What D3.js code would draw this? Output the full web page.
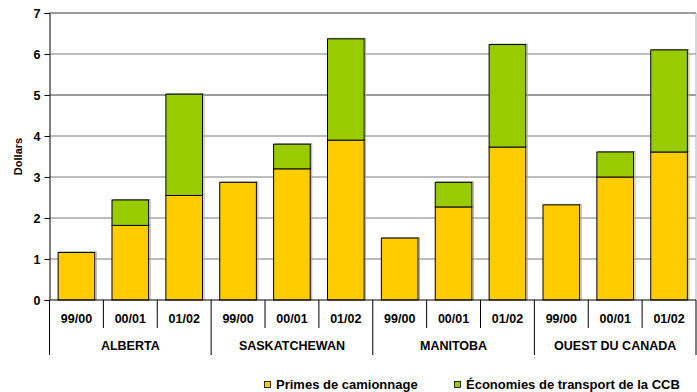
<!DOCTYPE html>
<html>
<head>
<meta charset="utf-8">
<script src="https://cdn.jsdelivr.net/npm/d3@7"></script>
<style>
  body { margin: 0; background: #fff; }
  text { font-family: "Liberation Sans", Arial, sans-serif; font-weight: bold; }
</style>
</head>
<body>
<div id="vis"></div>
<script>
// data
var regions = ["ALBERTA", "SASKATCHEWAN", "MANITOBA", "OUEST DU CANADA"];
var years = ["99/00", "00/01", "01/02"];
var primes = [1.16, 1.82, 2.55, 2.87, 3.20, 3.90, 1.51, 2.27, 3.73, 2.32, 3.00, 3.61];
var economies = [0, 0.62, 2.47, 0, 0.60, 2.47, 0, 0.60, 2.50, 0, 0.61, 2.49];
var yTicks = [0, 1, 2, 3, 4, 5, 6, 7];
var seriesNames = ["Primes de camionnage", "Économies de transport de la CCB"];
var colors = ["#FFCC00", "#99CC00"];

var W = 697, H = 392,
    mLeft = 49.5, mRight = 696, mTop = 13, mBottom = 300;

var svg = d3.select("#vis").append("svg").attr("width", W).attr("height", H);

var keys = [];
regions.forEach(function(r){ years.forEach(function(y){ keys.push(r + "|" + y); }); });

var rows = keys.map(function(k, i){ return {key: k, p: primes[i], e: economies[i]}; });

var x = d3.scaleBand().domain(keys).range([mLeft, mRight]).paddingInner(0.32).paddingOuter(0.16);
var y = d3.scaleLinear().domain([0, 7]).range([mBottom, mTop]);

// gridlines
svg.append("g").selectAll("line").data(yTicks.filter(function(d){ return d > 0; })).enter()
    .append("line")
    .attr("x1", mLeft).attr("x2", mRight)
    .attr("y1", function(d){ return y(d); }).attr("y2", function(d){ return y(d); })
    .attr("stroke", "#7a7a7a")
    .attr("stroke-width", function(d){ return (d == 7 || d == 5) ? 1.5 : 1; });

// right border
svg.append("line").attr("x1", mRight).attr("x2", mRight).attr("y1", mTop).attr("y2", mBottom)
    .attr("stroke", "#b0b0b0");

// stacked bars
var stack = d3.stack().keys(["p", "e"]);
var layers = stack(rows);

layers.forEach(function(layer, li){
    var g = svg.append("g");
    var segs = layer.filter(function(d){ return d[1] - d[0] > 0; });
    // soft shadow like the original
    g.selectAll("rect.sh").data(segs).enter()
        .append("rect").attr("class", "sh")
        .attr("x", function(d){ return x(d.data.key) + 1.5; })
        .attr("width", x.bandwidth())
        .attr("y", function(d){ return y(d[1]) - 0.5; })
        .attr("height", function(d){ return y(d[0]) - y(d[1]); })
        .attr("fill", "none")
        .attr("stroke", "#aaa")
        .attr("stroke-width", 1);
    g.selectAll("rect.bar").data(segs).enter()
        .append("rect").attr("class", "bar")
        .attr("x", function(d){ return x(d.data.key); })
        .attr("width", x.bandwidth())
        .attr("y", function(d){ return y(d[1]); })
        .attr("height", function(d){ return y(d[0]) - y(d[1]); })
        .attr("fill", colors[li])
        .attr("stroke", "#000")
        .attr("stroke-width", 1);
});

// y axis
var yAxis = d3.axisLeft(y).tickValues(yTicks).tickSize(5).tickFormat(d3.format("d"));
var ya = svg.append("g").attr("transform", "translate(" + mLeft + ",0)").call(yAxis);
ya.select(".domain").attr("stroke", "#000");
ya.selectAll(".tick line").attr("stroke", "#000");
ya.selectAll(".tick text").attr("font-size", 12.5).attr("font-weight", "bold")
    .attr("font-family", "Liberation Sans, Arial, sans-serif").attr("x", -9).attr("fill", "#000");

svg.append("text").attr("transform", "translate(22," + ((mTop + mBottom) / 2) + ") rotate(-90)")
    .attr("text-anchor", "middle").attr("font-size", 11).text("Dollars");

// x axis line
svg.append("line").attr("x1", mLeft).attr("x2", mRight).attr("y1", mBottom).attr("y2", mBottom)
    .attr("stroke", "#000");

var step = x.step();
var x0 = mLeft;

// category separators
d3.range(keys.length + 1).forEach(function(i){
    var isGroup = i % 3 == 0;
    svg.append("line")
        .attr("x1", x0 + i * step).attr("x2", x0 + i * step)
        .attr("y1", mBottom).attr("y2", isGroup ? 355 : 328)
        .attr("stroke", "#000");
});

svg.append("g").selectAll("text").data(keys).enter().append("text")
    .attr("x", function(d){ return x(d) + x.bandwidth() / 2; })
    .attr("y", 323)
    .attr("text-anchor", "middle").attr("font-size", 12.5)
    .text(function(d){ return d.split("|")[1]; });

svg.append("g").selectAll("text").data(regions).enter().append("text")
    .attr("x", function(d, i){ return x0 + (i * 3 + 1.5) * step; })
    .attr("y", 350)
    .attr("text-anchor", "middle").attr("font-size", 12.5)
    .text(function(d){ return d; });

// legend
var legX = [264, 454];
var leg = svg.append("g").selectAll("g").data(seriesNames).enter().append("g")
    .attr("transform", function(d, i){ return "translate(" + legX[i] + ",389)"; });
leg.append("rect").attr("x", 0.5).attr("y", -7.5).attr("width", 6).attr("height", 6)
    .attr("fill", function(d, i){ return colors[i]; }).attr("stroke", "#000").attr("stroke-width", 0.8);
leg.append("text").attr("x", 12).attr("y", 0).attr("font-size", 13)
    .text(function(d){ return d; });
</script>
</body>
</html>
